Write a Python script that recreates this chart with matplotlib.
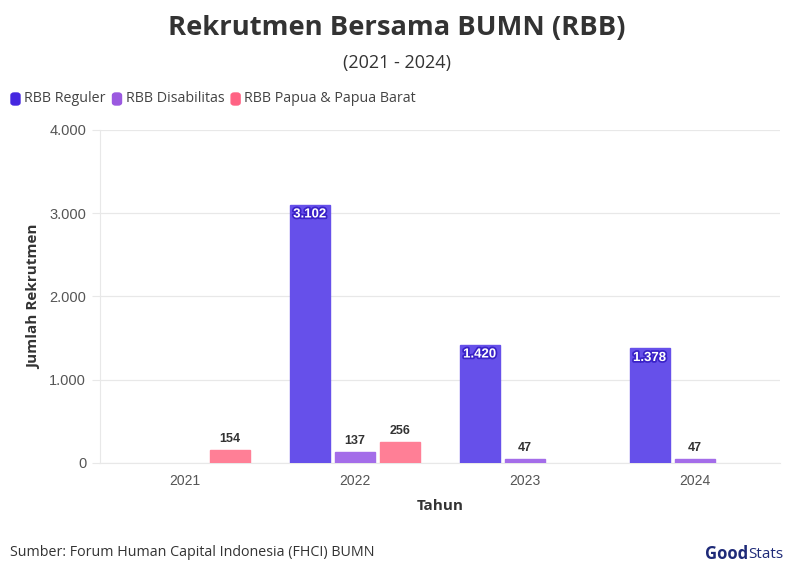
import numpy as np
import matplotlib.pyplot as plt
import matplotlib.patheffects as pe
from matplotlib.patches import FancyBboxPatch

## ----- DATA ------ ##

years = ["2021", "2022", "2023", "2024"]
reguler = [0, 3102, 1420, 1378]
disabilitas = [0, 137, 47, 47]
papua = [154, 256, 0, 0]
series_names = ["RBB Reguler", "RBB Disabilitas", "RBB Papua & Papua Barat"]
y_ticks = [0, 1000, 2000, 3000, 4000]
y_tick_labels = ["0", "1.000", "2.000", "3.000", "4.000"]

## ----- STYLE ------ ##

bar_colors = ["#6650EA", "#A46DE9", "#FF7F96"]
legend_colors = ["#4527E0", "#9B59E0", "#FF6384"]
grid_col = "#E8E8E8"
text_col = "#333333"
tick_col = "#555555"
font = "Open Sans"

fig = plt.figure(figsize=(7.94, 5.75), dpi=100)
ax = fig.add_axes([0.126, 0.1948, 0.856, 0.5792])

x = np.arange(len(years))
width = 0.235
offset = 0.265

def fmt(v):
    return f"{v:,}".replace(",", ".")

for i, (vals, col) in enumerate(zip([reguler, disabilitas, papua], bar_colors)):
    pos = x + (i - 1) * offset
    for xp, v in zip(pos, vals):
        if v <= 0:
            continue
        ax.bar(xp, v, width=width, color=col, edgecolor=col, zorder=3)
        if v > 800:
            t = ax.text(xp, v - 45, fmt(v), ha="center", va="top", color="white",
                        fontsize=9.5, fontweight="bold", family="Liberation Sans", zorder=4)
            t.set_path_effects([pe.withStroke(linewidth=2.5, foreground="#3A22C8")])
        else:
            ax.text(xp, v + 60, fmt(v), ha="center", va="bottom", color=text_col,
                    fontsize=9, fontweight="bold", family="Liberation Sans", zorder=4)

ax.set_xlim(-0.5, 3.5)
ax.set_ylim(0, 4000)
ax.set_xticks(x)
ax.set_xticklabels(years, fontsize=10, color=tick_col, family="Liberation Sans")
ax.set_yticks(y_ticks)
ax.set_yticklabels(y_tick_labels, fontsize=10.5, color=tick_col, family="Liberation Sans")
ax.tick_params(axis="y", length=6, color=grid_col, pad=4)
ax.tick_params(axis="x", length=0, pad=8)
ax.grid(axis="y", color=grid_col, linewidth=0.9, zorder=0)
for s in ["top", "right"]:
    ax.spines[s].set_visible(False)
ax.spines["left"].set_color(grid_col)
ax.spines["bottom"].set_color(grid_col)

ax.set_xlabel("Tahun", fontsize=11, fontweight="bold", color=text_col, family=font, labelpad=8)
ax.set_ylabel("Jumlah Rekrutmen", fontsize=11, fontweight="bold", color=text_col, family=font, labelpad=6)

## ----- TITLES ------ ##

fig.text(0.5, 1 - 28 / 575, "Rekrutmen Bersama BUMN (RBB)", ha="center", va="center",
         fontsize=19.7, fontweight="bold", color=text_col, family=font)
fig.text(0.5, 1 - 63 / 575, "(2021 - 2024)", ha="center", va="center",
         fontsize=13, color=text_col, family=font)

## ----- LEGEND ------ ##

lx = 11
for name, col in zip(series_names, legend_colors):
    fig.patches.append(FancyBboxPatch((lx / 794, 1 - 105 / 575), 9 / 794, 12 / 575,
                                      boxstyle="round,pad=0,rounding_size=0.004",
                                      transform=fig.transFigure, color=col))
    t = fig.text((lx + 13) / 794, 1 - 99 / 575, name, ha="left", va="center",
                 fontsize=10.3, color="#444444", family=font)
    fig.canvas.draw()
    bb = t.get_window_extent()
    lx = bb.x1 + 7

fig.text(10 / 794, 1 - 552 / 575, "Sumber: Forum Human Capital Indonesia (FHCI) BUMN",
         ha="left", va="center", fontsize=10.3, color=text_col, family=font)
good = fig.text(705 / 794, 1 - 554 / 575, "Good", ha="left", va="center", fontsize=12,
                fontweight="bold", color="#1E2A78", family=font)
fig.canvas.draw()
gx = good.get_window_extent().x1
fig.text((gx + 0.5) / 794, 1 - 554 / 575, "Stats", ha="left", va="center", fontsize=11,
         color="#1E2A78", family=font)

fig.savefig("out.png", dpi=100)
